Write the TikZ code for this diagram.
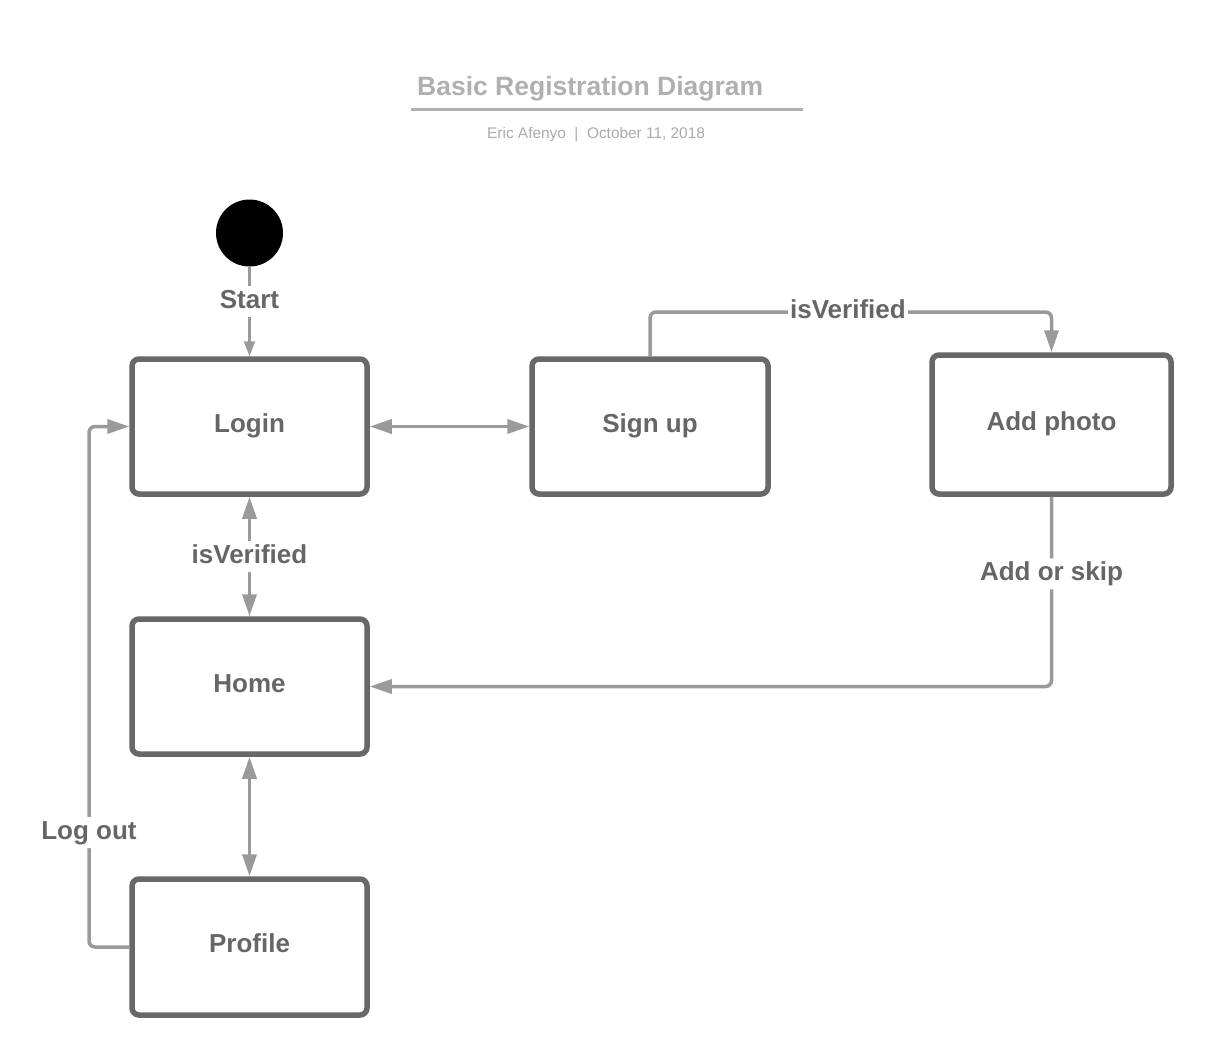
\documentclass[tikz,border=0pt]{standalone}
\usepackage{fontspec}
\setmainfont{Liberation Sans}
\usetikzlibrary{arrows.meta}
\definecolor{boxc}{HTML}{686868}
\definecolor{txtc}{HTML}{666666}
\definecolor{connc}{HTML}{9A9A9A}
\definecolor{titlec}{HTML}{B0B0B0}
\definecolor{subc}{HTML}{ABABAB}
\tikzset{
  statebox/.style={draw=boxc, line width=5.5pt, rounded corners=7pt, fill=white,
    text=txtc, font=\fontsize{26}{31}\selectfont\bfseries,
    text height=19pt, text depth=8pt, inner sep=0pt},
  conn/.style={draw=connc, line width=3.5pt, rounded corners=6pt},
  bigtip/.style={-{Triangle[length=22pt,width=14pt]}},
  bothtip/.style={{Triangle[length=22pt,width=14pt]}-{Triangle[length=22pt,width=14pt]}},
  lbl/.style={fill=white, text=txtc, font=\fontsize{26}{31}\selectfont\bfseries,
    text height=19pt, text depth=6pt, inner xsep=2pt, inner ysep=3pt},
}
\begin{document}
\begin{tikzpicture}[x=1pt,y=1pt]
\fill[white] (0,0) rectangle (1212,-1055);
\useasboundingbox (0,0) rectangle (1212,-1055);

% title
\node[anchor=base west, inner sep=0pt, text=titlec, font=\fontsize{26.5}{31}\selectfont\bfseries] (title) at (417,-95) {Basic Registration Diagram};
\coordinate (tl1) at (411,-109.5);
\coordinate (tl2) at (803,-109.5);
\draw[titlec, line width=2.3pt] (tl1) -- (tl2);
\node[anchor=base west, inner sep=0pt, text=subc, font=\fontsize{15.4}{18}\selectfont] (sub) at (487,-138.7) {Eric Afenyo\ \ |\ \ October 11, 2018};

% nodes
\node[circle, fill=black, minimum size=67pt, inner sep=0pt] (start) at (249.5,-233) {};
\node[statebox, minimum width=235pt, minimum height=135pt] (login) at (249.5,-426.5) {Login};
\node[statebox, minimum width=236pt, minimum height=135pt] (signup) at (650,-426.5) {Sign up};
\node[statebox, minimum width=239pt, minimum height=139pt] (addphoto) at (1051.5,-424.5) {Add photo};
\node[statebox, minimum width=235pt, minimum height=135pt] (home) at (249.5,-686.5) {Home};
\node[statebox, minimum width=235pt, minimum height=136pt] (profile) at (249.5,-947) {Profile};

\coordinate (ty) at (0,-312);
\coordinate (lx) at (89,0);

% connectors
\draw[draw=connc, line width=2.5pt, -{Triangle[length=15pt,width=11pt]}] (start) -- (login.north) node[lbl, pos=0.39] {Start};
\draw[conn, bothtip] (login.east) -- (signup.west);
\draw[conn, bigtip] (signup.north) -- (signup.north |- ty) -- (addphoto.north |- ty) node[lbl, pos=0.493] {isVerified} -- (addphoto.north);
\draw[conn, bothtip] (login.south) -- (home.north) node[lbl, midway] {isVerified};
\draw[conn, bigtip] (addphoto.south) -- (addphoto.south |- home.east) node[lbl, pos=0.406] {Add or skip} -- (home.east);
\draw[conn, bothtip] (home.south) -- (profile.north);
\draw[conn, bigtip] (profile.west) -- (profile.west -| lx) -- (login.west -| lx) node[lbl, pos=0.22] {Log out} -- (login.west);
\end{tikzpicture}
\end{document}
